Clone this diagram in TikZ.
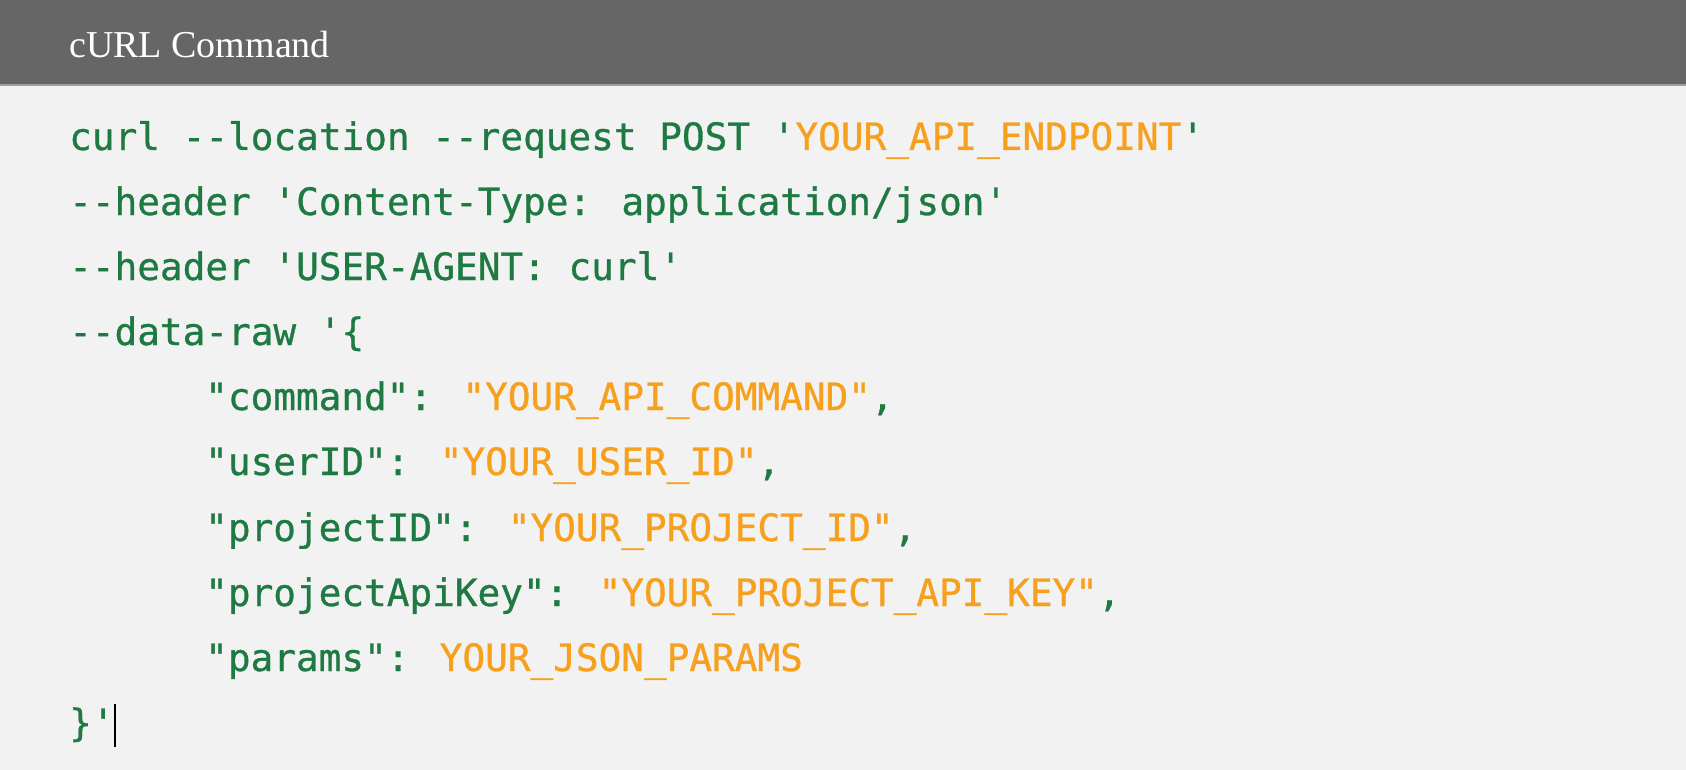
\documentclass[tikz,border=0pt]{standalone}
\usepackage{fontspec}
\usepackage{tikz}
\setmainfont{Liberation Serif}
\newfontfamily\codefont[FakeBold=0.8]{DejaVu Sans Mono}
\definecolor{headgray}{RGB}{102,102,102}
\definecolor{rulegray}{RGB}{160,160,160}
\definecolor{bodygray}{RGB}{242,242,242}
\definecolor{codegreen}{RGB}{30,122,66}
\definecolor{codeorange}{RGB}{247,160,30}
\newcommand{\val}[1]{\textcolor{codeorange}{#1}}

\begin{document}
\begin{tikzpicture}[x=1pt,y=-1pt,
	code/.style={anchor=base west, inner sep=0pt, text=codegreen, font=\codefont\fontsize{37.7}{40}\selectfont},
	title/.style={anchor=base west, inner sep=0pt, text=white, font=\fontsize{38}{40}\selectfont}]
	\fill[bodygray] (0,0) rectangle (1686,770);
	\fill[headgray] (0,0) rectangle (1686,86);
	\fill[rulegray] (0,84.5) rectangle (1686,86.5);

	\node[title] (head) at (69,58) {cURL Command};

	\node[code] (l1) at (69,150) {curl --location --request POST '\val{YOUR\_API\_ENDPOINT}'};
	\node[code] (l2) at (69,215) {--header 'Content-Type: application/json'};
	\node[code] (l3) at (69,280) {--header 'USER-AGENT: curl'};
	\node[code] (l4) at (69,345) {--data-raw '\{};
	\node[code] (l5) at (205,410) {"command": \val{"YOUR\_API\_COMMAND"},};
	\node[code] (l6) at (205,475) {"userID": \val{"YOUR\_USER\_ID"},};
	\node[code] (l7) at (205,541) {"projectID": \val{"YOUR\_PROJECT\_ID"},};
	\node[code] (l8) at (205,606) {"projectApiKey": \val{"YOUR\_PROJECT\_API\_KEY"},};
	\node[code] (l9) at (205,671) {"params": \val{YOUR\_JSON\_PARAMS}};
	\node[code] (l10) at (69,736) {\}'};

	\draw[line width=2pt] ([yshift=32pt]l10.base east) -- ([yshift=-11pt]l10.base east);
\end{tikzpicture}
\end{document}
